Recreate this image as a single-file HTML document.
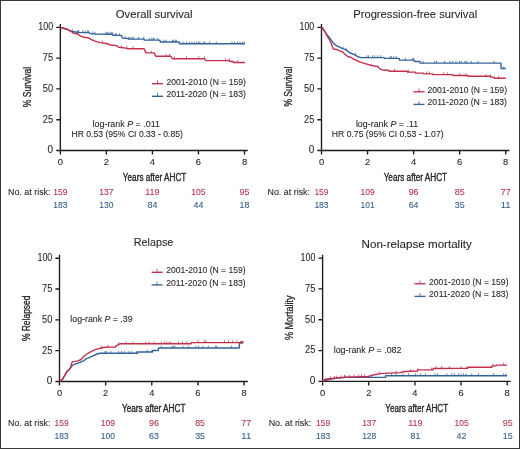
<!DOCTYPE html>
<html><head><meta charset="utf-8"><style>
html,body{margin:0;padding:0;background:#fff;}
#c{position:relative;width:520px;height:449px;overflow:hidden;background:#fff;box-sizing:border-box;border:1px solid #3a3a3a;}
svg{position:absolute;left:-1px;top:-1px;will-change:transform;}
text{font-family:"Liberation Sans",sans-serif;stroke:currentColor;stroke-width:0.08px;}
</style></head><body><div id="c">
<svg width="520" height="449" viewBox="0 0 520 449">
<text x="154.2" y="17.6" font-size="11.2" fill="#262626" color="#262626" text-anchor="middle" textLength="76.8" lengthAdjust="spacingAndGlyphs">Overall survival</text>
<path d="M60.35,24.0V154.6M56.25,150.5H247.8M56.25,150.50H60.35M60.35,150.5V154.6M56.25,119.70H60.35M106.39,150.5V154.6M56.25,88.90H60.35M152.43,150.5V154.6M56.25,58.10H60.35M198.46,150.5V154.6M56.25,27.30H60.35M244.50,150.5V154.6" stroke="#1a1a1a" stroke-width="1.35" fill="none"/>
<text x="53.15" y="153.40" font-size="10" fill="#262626" color="#262626" text-anchor="end">0</text>
<text x="53.15" y="122.60" font-size="10" fill="#262626" color="#262626" text-anchor="end" textLength="10.3" lengthAdjust="spacingAndGlyphs">25</text>
<text x="53.15" y="91.80" font-size="10" fill="#262626" color="#262626" text-anchor="end" textLength="10.3" lengthAdjust="spacingAndGlyphs">50</text>
<text x="53.15" y="61.00" font-size="10" fill="#262626" color="#262626" text-anchor="end" textLength="10.3" lengthAdjust="spacingAndGlyphs">75</text>
<text x="53.15" y="30.20" font-size="10" fill="#262626" color="#262626" text-anchor="end" textLength="14.8" lengthAdjust="spacingAndGlyphs">100</text>
<text x="60.35" y="165.10" font-size="9.4" fill="#262626" color="#262626" text-anchor="middle">0</text>
<text x="106.39" y="165.10" font-size="9.4" fill="#262626" color="#262626" text-anchor="middle">2</text>
<text x="152.43" y="165.10" font-size="9.4" fill="#262626" color="#262626" text-anchor="middle">4</text>
<text x="198.46" y="165.10" font-size="9.4" fill="#262626" color="#262626" text-anchor="middle">6</text>
<text x="244.50" y="165.10" font-size="9.4" fill="#262626" color="#262626" text-anchor="middle">8</text>
<text transform="translate(30.7,87.0) rotate(-90)" x="0" y="0" font-size="11" fill="#262626" color="#262626" text-anchor="middle" textLength="40.3" lengthAdjust="spacingAndGlyphs" style="stroke-width:0.3px">% Survival</text>
<path d="M152.0,83.70H163.0" stroke="#c42f4e" stroke-width="1.35" fill="none"/>
<path d="M157.5,83.70V80.30" stroke="#c42f4e" stroke-width="0.8" fill="none"/>
<text x="166.4" y="85.10" font-size="8.2" fill="#262626" color="#262626" textLength="79.5" lengthAdjust="spacingAndGlyphs">2001-2010 (N = 159)</text>
<path d="M152.0,96.30H163.0" stroke="#33639a" stroke-width="1.35" fill="none"/>
<path d="M157.5,96.30V92.90" stroke="#33639a" stroke-width="0.8" fill="none"/>
<text x="166.4" y="97.35" font-size="8.2" fill="#262626" color="#262626" textLength="79.5" lengthAdjust="spacingAndGlyphs">2011-2020 (N = 183)</text>
<text x="92.6" y="126.7" font-size="8.2" fill="#262626" color="#262626" textLength="67.3" lengthAdjust="spacingAndGlyphs">log-rank <tspan font-style="italic">P</tspan> = .011</text>
<text x="127.2" y="137.2" font-size="8.2" fill="#262626" color="#262626" text-anchor="middle" textLength="111.5" lengthAdjust="spacingAndGlyphs">HR 0.53 (95% CI 0.33 - 0.85)</text>
<text x="154.6" y="180.6" font-size="10" fill="#262626" color="#262626" text-anchor="middle" textLength="63.5" lengthAdjust="spacingAndGlyphs" style="stroke-width:0.35px">Years after AHCT</text>
<text x="8.0" y="195.1" font-size="9" fill="#262626" color="#262626" textLength="42.5" lengthAdjust="spacingAndGlyphs">No. at risk:</text>
<text x="60.35" y="195.1" font-size="9" fill="#b3304c" color="#b3304c" text-anchor="middle" textLength="14.2" lengthAdjust="spacingAndGlyphs">159</text>
<text x="60.35" y="208.00" font-size="9" fill="#305c8a" color="#305c8a" text-anchor="middle" textLength="14.2" lengthAdjust="spacingAndGlyphs">183</text>
<text x="106.39" y="195.1" font-size="9" fill="#b3304c" color="#b3304c" text-anchor="middle" textLength="14.2" lengthAdjust="spacingAndGlyphs">137</text>
<text x="106.39" y="208.00" font-size="9" fill="#305c8a" color="#305c8a" text-anchor="middle" textLength="14.2" lengthAdjust="spacingAndGlyphs">130</text>
<text x="152.43" y="195.1" font-size="9" fill="#b3304c" color="#b3304c" text-anchor="middle" textLength="14.2" lengthAdjust="spacingAndGlyphs">119</text>
<text x="152.43" y="208.00" font-size="9" fill="#305c8a" color="#305c8a" text-anchor="middle" textLength="9.9" lengthAdjust="spacingAndGlyphs">84</text>
<text x="198.46" y="195.1" font-size="9" fill="#b3304c" color="#b3304c" text-anchor="middle" textLength="14.2" lengthAdjust="spacingAndGlyphs">105</text>
<text x="198.46" y="208.00" font-size="9" fill="#305c8a" color="#305c8a" text-anchor="middle" textLength="9.9" lengthAdjust="spacingAndGlyphs">44</text>
<text x="244.50" y="195.1" font-size="9" fill="#b3304c" color="#b3304c" text-anchor="middle" textLength="9.9" lengthAdjust="spacingAndGlyphs">95</text>
<text x="244.50" y="208.00" font-size="9" fill="#305c8a" color="#305c8a" text-anchor="middle" textLength="9.9" lengthAdjust="spacingAndGlyphs">18</text>
<text x="415.2" y="17.7" font-size="11.2" fill="#262626" color="#262626" text-anchor="middle" textLength="124.0" lengthAdjust="spacingAndGlyphs">Progression-free survival</text>
<path d="M321.5,24.0V154.6M317.4,150.5H509.3M317.4,150.50H321.5M321.50,150.5V154.6M317.4,119.70H321.5M367.55,150.5V154.6M317.4,88.90H321.5M413.60,150.5V154.6M317.4,58.10H321.5M459.65,150.5V154.6M317.4,27.30H321.5M505.70,150.5V154.6" stroke="#1a1a1a" stroke-width="1.35" fill="none"/>
<text x="314.3" y="153.40" font-size="10" fill="#262626" color="#262626" text-anchor="end">0</text>
<text x="314.3" y="122.60" font-size="10" fill="#262626" color="#262626" text-anchor="end" textLength="10.3" lengthAdjust="spacingAndGlyphs">25</text>
<text x="314.3" y="91.80" font-size="10" fill="#262626" color="#262626" text-anchor="end" textLength="10.3" lengthAdjust="spacingAndGlyphs">50</text>
<text x="314.3" y="61.00" font-size="10" fill="#262626" color="#262626" text-anchor="end" textLength="10.3" lengthAdjust="spacingAndGlyphs">75</text>
<text x="314.3" y="30.20" font-size="10" fill="#262626" color="#262626" text-anchor="end" textLength="14.8" lengthAdjust="spacingAndGlyphs">100</text>
<text x="321.50" y="165.10" font-size="9.4" fill="#262626" color="#262626" text-anchor="middle">0</text>
<text x="367.55" y="165.10" font-size="9.4" fill="#262626" color="#262626" text-anchor="middle">2</text>
<text x="413.60" y="165.10" font-size="9.4" fill="#262626" color="#262626" text-anchor="middle">4</text>
<text x="459.65" y="165.10" font-size="9.4" fill="#262626" color="#262626" text-anchor="middle">6</text>
<text x="505.70" y="165.10" font-size="9.4" fill="#262626" color="#262626" text-anchor="middle">8</text>
<text transform="translate(292.0,86.6) rotate(-90)" x="0" y="0" font-size="11" fill="#262626" color="#262626" text-anchor="middle" textLength="39.8" lengthAdjust="spacingAndGlyphs" style="stroke-width:0.3px">% Survival</text>
<path d="M413.5,91.80H424.5" stroke="#c42f4e" stroke-width="1.35" fill="none"/>
<path d="M419.0,91.80V88.40" stroke="#c42f4e" stroke-width="0.8" fill="none"/>
<text x="427.5" y="93.20" font-size="8.2" fill="#262626" color="#262626" textLength="79.5" lengthAdjust="spacingAndGlyphs">2001-2010 (N = 159)</text>
<path d="M413.5,104.40H424.5" stroke="#33639a" stroke-width="1.35" fill="none"/>
<path d="M419.0,104.40V101.00" stroke="#33639a" stroke-width="0.8" fill="none"/>
<text x="427.5" y="105.45" font-size="8.2" fill="#262626" color="#262626" textLength="79.5" lengthAdjust="spacingAndGlyphs">2011-2020 (N = 183)</text>
<text x="355.9" y="126.9" font-size="8.2" fill="#262626" color="#262626" textLength="62.2" lengthAdjust="spacingAndGlyphs">log-rank <tspan font-style="italic">P</tspan> = .11</text>
<text x="387.7" y="137.2" font-size="8.2" fill="#262626" color="#262626" text-anchor="middle" textLength="111.8" lengthAdjust="spacingAndGlyphs">HR 0.75 (95% CI 0.53 - 1.07)</text>
<text x="415.4" y="180.6" font-size="10" fill="#262626" color="#262626" text-anchor="middle" textLength="63.5" lengthAdjust="spacingAndGlyphs" style="stroke-width:0.35px">Years after AHCT</text>
<text x="267.5" y="194.8" font-size="9" fill="#262626" color="#262626" textLength="42.5" lengthAdjust="spacingAndGlyphs">No. at risk:</text>
<text x="321.50" y="194.8" font-size="9" fill="#b3304c" color="#b3304c" text-anchor="middle" textLength="14.2" lengthAdjust="spacingAndGlyphs">159</text>
<text x="321.50" y="207.70" font-size="9" fill="#305c8a" color="#305c8a" text-anchor="middle" textLength="14.2" lengthAdjust="spacingAndGlyphs">183</text>
<text x="367.55" y="194.8" font-size="9" fill="#b3304c" color="#b3304c" text-anchor="middle" textLength="14.2" lengthAdjust="spacingAndGlyphs">109</text>
<text x="367.55" y="207.70" font-size="9" fill="#305c8a" color="#305c8a" text-anchor="middle" textLength="14.2" lengthAdjust="spacingAndGlyphs">101</text>
<text x="413.60" y="194.8" font-size="9" fill="#b3304c" color="#b3304c" text-anchor="middle" textLength="9.9" lengthAdjust="spacingAndGlyphs">96</text>
<text x="413.60" y="207.70" font-size="9" fill="#305c8a" color="#305c8a" text-anchor="middle" textLength="9.9" lengthAdjust="spacingAndGlyphs">64</text>
<text x="459.65" y="194.8" font-size="9" fill="#b3304c" color="#b3304c" text-anchor="middle" textLength="9.9" lengthAdjust="spacingAndGlyphs">85</text>
<text x="459.65" y="207.70" font-size="9" fill="#305c8a" color="#305c8a" text-anchor="middle" textLength="9.9" lengthAdjust="spacingAndGlyphs">35</text>
<text x="505.70" y="194.8" font-size="9" fill="#b3304c" color="#b3304c" text-anchor="middle" textLength="9.9" lengthAdjust="spacingAndGlyphs">77</text>
<text x="505.70" y="207.70" font-size="9" fill="#305c8a" color="#305c8a" text-anchor="middle" textLength="9.9" lengthAdjust="spacingAndGlyphs">11</text>
<text x="153.5" y="246.4" font-size="11.2" fill="#262626" color="#262626" text-anchor="middle" textLength="39.5" lengthAdjust="spacingAndGlyphs">Relapse</text>
<path d="M59.5,254.8V385.6M55.4,381.5H247.85M55.4,381.50H59.5M59.50,381.5V385.6M55.4,350.68H59.5M105.64,381.5V385.6M55.4,319.85H59.5M151.78,381.5V385.6M55.4,289.02H59.5M197.91,381.5V385.6M55.4,258.20H59.5M244.05,381.5V385.6" stroke="#1a1a1a" stroke-width="1.35" fill="none"/>
<text x="52.3" y="384.40" font-size="10" fill="#262626" color="#262626" text-anchor="end">0</text>
<text x="52.3" y="353.57" font-size="10" fill="#262626" color="#262626" text-anchor="end" textLength="10.3" lengthAdjust="spacingAndGlyphs">25</text>
<text x="52.3" y="322.75" font-size="10" fill="#262626" color="#262626" text-anchor="end" textLength="10.3" lengthAdjust="spacingAndGlyphs">50</text>
<text x="52.3" y="291.92" font-size="10" fill="#262626" color="#262626" text-anchor="end" textLength="10.3" lengthAdjust="spacingAndGlyphs">75</text>
<text x="52.3" y="261.10" font-size="10" fill="#262626" color="#262626" text-anchor="end" textLength="14.8" lengthAdjust="spacingAndGlyphs">100</text>
<text x="59.50" y="396.10" font-size="9.4" fill="#262626" color="#262626" text-anchor="middle">0</text>
<text x="105.64" y="396.10" font-size="9.4" fill="#262626" color="#262626" text-anchor="middle">2</text>
<text x="151.78" y="396.10" font-size="9.4" fill="#262626" color="#262626" text-anchor="middle">4</text>
<text x="197.91" y="396.10" font-size="9.4" fill="#262626" color="#262626" text-anchor="middle">6</text>
<text x="244.05" y="396.10" font-size="9.4" fill="#262626" color="#262626" text-anchor="middle">8</text>
<text transform="translate(29.7,318.3) rotate(-90)" x="0" y="0" font-size="11" fill="#262626" color="#262626" text-anchor="middle" textLength="45.6" lengthAdjust="spacingAndGlyphs" style="stroke-width:0.3px">% Relapsed</text>
<path d="M151.6,272.30H162.6" stroke="#c42f4e" stroke-width="1.35" fill="none"/>
<path d="M157.1,272.30V268.90" stroke="#c42f4e" stroke-width="0.8" fill="none"/>
<text x="166.2" y="273.30" font-size="8.2" fill="#262626" color="#262626" textLength="79.5" lengthAdjust="spacingAndGlyphs">2001-2010 (N = 159)</text>
<path d="M151.6,284.90H162.6" stroke="#33639a" stroke-width="1.35" fill="none"/>
<path d="M157.1,284.90V281.50" stroke="#33639a" stroke-width="0.8" fill="none"/>
<text x="166.2" y="285.55" font-size="8.2" fill="#262626" color="#262626" textLength="79.5" lengthAdjust="spacingAndGlyphs">2011-2020 (N = 183)</text>
<text x="70.3" y="322.0" font-size="8.2" fill="#262626" color="#262626" textLength="62.3" lengthAdjust="spacingAndGlyphs">log-rank <tspan font-style="italic">P</tspan> = .39</text>
<text x="153.7" y="411.6" font-size="10" fill="#262626" color="#262626" text-anchor="middle" textLength="63.5" lengthAdjust="spacingAndGlyphs" style="stroke-width:0.35px">Years after AHCT</text>
<text x="8.0" y="425.7" font-size="9" fill="#262626" color="#262626" textLength="42.5" lengthAdjust="spacingAndGlyphs">No. at risk:</text>
<text x="61.70" y="425.7" font-size="9" fill="#b3304c" color="#b3304c" text-anchor="middle" textLength="14.2" lengthAdjust="spacingAndGlyphs">159</text>
<text x="61.70" y="438.60" font-size="9" fill="#305c8a" color="#305c8a" text-anchor="middle" textLength="14.2" lengthAdjust="spacingAndGlyphs">183</text>
<text x="107.84" y="425.7" font-size="9" fill="#b3304c" color="#b3304c" text-anchor="middle" textLength="14.2" lengthAdjust="spacingAndGlyphs">109</text>
<text x="107.84" y="438.60" font-size="9" fill="#305c8a" color="#305c8a" text-anchor="middle" textLength="14.2" lengthAdjust="spacingAndGlyphs">100</text>
<text x="153.97" y="425.7" font-size="9" fill="#b3304c" color="#b3304c" text-anchor="middle" textLength="9.9" lengthAdjust="spacingAndGlyphs">96</text>
<text x="153.97" y="438.60" font-size="9" fill="#305c8a" color="#305c8a" text-anchor="middle" textLength="9.9" lengthAdjust="spacingAndGlyphs">63</text>
<text x="200.11" y="425.7" font-size="9" fill="#b3304c" color="#b3304c" text-anchor="middle" textLength="9.9" lengthAdjust="spacingAndGlyphs">85</text>
<text x="200.11" y="438.60" font-size="9" fill="#305c8a" color="#305c8a" text-anchor="middle" textLength="9.9" lengthAdjust="spacingAndGlyphs">35</text>
<text x="246.25" y="425.7" font-size="9" fill="#b3304c" color="#b3304c" text-anchor="middle" textLength="9.9" lengthAdjust="spacingAndGlyphs">77</text>
<text x="246.25" y="438.60" font-size="9" fill="#305c8a" color="#305c8a" text-anchor="middle" textLength="9.9" lengthAdjust="spacingAndGlyphs">11</text>
<text x="416.7" y="247.9" font-size="11.2" fill="#262626" color="#262626" text-anchor="middle" textLength="110.2" lengthAdjust="spacingAndGlyphs">Non-relapse mortality</text>
<path d="M322.6,254.7V385.5M318.5,381.4H510.6M318.5,381.40H322.6M322.60,381.4V385.5M318.5,350.57H322.6M368.75,381.4V385.5M318.5,319.75H322.6M414.90,381.4V385.5M318.5,288.93H322.6M461.05,381.4V385.5M318.5,258.10H322.6M507.20,381.4V385.5" stroke="#1a1a1a" stroke-width="1.35" fill="none"/>
<text x="315.40000000000003" y="384.30" font-size="10" fill="#262626" color="#262626" text-anchor="end">0</text>
<text x="315.40000000000003" y="353.47" font-size="10" fill="#262626" color="#262626" text-anchor="end" textLength="10.3" lengthAdjust="spacingAndGlyphs">25</text>
<text x="315.40000000000003" y="322.65" font-size="10" fill="#262626" color="#262626" text-anchor="end" textLength="10.3" lengthAdjust="spacingAndGlyphs">50</text>
<text x="315.40000000000003" y="291.82" font-size="10" fill="#262626" color="#262626" text-anchor="end" textLength="10.3" lengthAdjust="spacingAndGlyphs">75</text>
<text x="315.40000000000003" y="261.00" font-size="10" fill="#262626" color="#262626" text-anchor="end" textLength="14.8" lengthAdjust="spacingAndGlyphs">100</text>
<text x="322.60" y="396.00" font-size="9.4" fill="#262626" color="#262626" text-anchor="middle">0</text>
<text x="368.75" y="396.00" font-size="9.4" fill="#262626" color="#262626" text-anchor="middle">2</text>
<text x="414.90" y="396.00" font-size="9.4" fill="#262626" color="#262626" text-anchor="middle">4</text>
<text x="461.05" y="396.00" font-size="9.4" fill="#262626" color="#262626" text-anchor="middle">6</text>
<text x="507.20" y="396.00" font-size="9.4" fill="#262626" color="#262626" text-anchor="middle">8</text>
<text transform="translate(293.1,317.75) rotate(-90)" x="0" y="0" font-size="11" fill="#262626" color="#262626" text-anchor="middle" textLength="44.5" lengthAdjust="spacingAndGlyphs" style="stroke-width:0.3px">% Mortality</text>
<path d="M414.5,283.80H425.5" stroke="#c42f4e" stroke-width="1.35" fill="none"/>
<path d="M420.0,283.80V280.40" stroke="#c42f4e" stroke-width="0.8" fill="none"/>
<text x="429.0" y="285.20" font-size="8.2" fill="#262626" color="#262626" textLength="79.5" lengthAdjust="spacingAndGlyphs">2001-2010 (N = 159)</text>
<path d="M414.5,296.40H425.5" stroke="#33639a" stroke-width="1.35" fill="none"/>
<path d="M420.0,296.40V293.00" stroke="#33639a" stroke-width="0.8" fill="none"/>
<text x="429.0" y="297.45" font-size="8.2" fill="#262626" color="#262626" textLength="79.5" lengthAdjust="spacingAndGlyphs">2011-2020 (N = 183)</text>
<text x="333.7" y="352.7" font-size="8.2" fill="#262626" color="#262626" textLength="67.8" lengthAdjust="spacingAndGlyphs">log-rank <tspan font-style="italic">P</tspan> = .082</text>
<text x="416.7" y="411.6" font-size="10" fill="#262626" color="#262626" text-anchor="middle" textLength="62.8" lengthAdjust="spacingAndGlyphs" style="stroke-width:0.35px">Years after AHCT</text>
<text x="268.7" y="425.7" font-size="9" fill="#262626" color="#262626" textLength="42.5" lengthAdjust="spacingAndGlyphs">No. at risk:</text>
<text x="323.10" y="425.7" font-size="9" fill="#b3304c" color="#b3304c" text-anchor="middle" textLength="14.2" lengthAdjust="spacingAndGlyphs">159</text>
<text x="323.10" y="438.60" font-size="9" fill="#305c8a" color="#305c8a" text-anchor="middle" textLength="14.2" lengthAdjust="spacingAndGlyphs">183</text>
<text x="369.25" y="425.7" font-size="9" fill="#b3304c" color="#b3304c" text-anchor="middle" textLength="14.2" lengthAdjust="spacingAndGlyphs">137</text>
<text x="369.25" y="438.60" font-size="9" fill="#305c8a" color="#305c8a" text-anchor="middle" textLength="14.2" lengthAdjust="spacingAndGlyphs">128</text>
<text x="415.40" y="425.7" font-size="9" fill="#b3304c" color="#b3304c" text-anchor="middle" textLength="14.2" lengthAdjust="spacingAndGlyphs">119</text>
<text x="415.40" y="438.60" font-size="9" fill="#305c8a" color="#305c8a" text-anchor="middle" textLength="9.9" lengthAdjust="spacingAndGlyphs">81</text>
<text x="461.55" y="425.7" font-size="9" fill="#b3304c" color="#b3304c" text-anchor="middle" textLength="14.2" lengthAdjust="spacingAndGlyphs">105</text>
<text x="461.55" y="438.60" font-size="9" fill="#305c8a" color="#305c8a" text-anchor="middle" textLength="9.9" lengthAdjust="spacingAndGlyphs">42</text>
<text x="507.70" y="425.7" font-size="9" fill="#b3304c" color="#b3304c" text-anchor="middle" textLength="9.9" lengthAdjust="spacingAndGlyphs">95</text>
<text x="507.70" y="438.60" font-size="9" fill="#305c8a" color="#305c8a" text-anchor="middle" textLength="9.9" lengthAdjust="spacingAndGlyphs">15</text>
<path d="M60.35,27.5 L66.7,29.2 L70,30.9 L72,31.5 L79,32.5 L88.8,32.6 L90.3,33.6 L95,34 L112.7,34.2 L113,35.4 L121.2,35.4 L122.7,38.1 L128,38.5 L128.5,39.1 L144.1,39.1 L144.3,40.1 L160,40.1 L160.2,42 L179.2,42 L179.6,43.8 L245,43.8" stroke="#33639a" stroke-width="1.4" fill="none" stroke-linejoin="round"/>
<path d="M60.35,27.5 L63,28 L66.5,29 L69,30.2 L72,31.8 L73,33 L78,34 L79.5,35.6 L83.4,37.2 L88.5,37.8 L91,39.3 L95,41.2 L100,42.6 L106.5,43.5 L110.4,45 L116.5,45.6 L118.8,47.3 L125.8,48.1 L128,48.8 L144.1,48.8 L146,52.9 L154.2,52.9 L155.7,56.2 L170.6,56.2 L172.5,58.7 L204.4,58.7 L206.2,60.6 L229.4,60.6 L229.8,61.5 L233.1,61.5 L233.4,62.5 L245,62.5" stroke="#c42f4e" stroke-width="1.4" fill="none" stroke-linejoin="round"/>
<path d="M321.5,27.3 L324,30.4 L327,34.7 L330,38.3 L333,42.6 L336,45.4 L339,46.8 L342,48.3 L345,49.3 L347,50.6 L350,53 L355,54.9 L358,56.8 L361,57.6 L384.3,57.6 L384.5,58.4 L399.2,58.4 L399.4,60.15 L414.2,60.15 L414.4,61.5 L420,61.5 L420.2,63.1 L500.9,63.1 L501.1,68.5 L505.8,68.5" stroke="#33639a" stroke-width="1.4" fill="none" stroke-linejoin="round"/>
<path d="M321.5,27.3 L323,28.3 L325,31.8 L327,35.8 L329,39 L331.5,44 L333.3,49 L336,49.3 L340,50.8 L343,52.2 L345,54.2 L348,56.8 L351,57.3 L353,58.75 L357,60.7 L360,62.1 L365,63.6 L370,65 L373,65.8 L378,66.4 L378.5,67.4 L380.5,69.3 L384,70.3 L388.5,70.3 L389,71.2 L407.3,71.2 L407.5,72.15 L415.4,72.15 L415.6,73.1 L423.5,73.1 L423.7,73.9 L432.7,73.9 L432.9,74.6 L452.9,74.6 L453.1,75.5 L467.7,75.5 L467.9,76.2 L490.5,76.2 L490.7,77.1 L494.2,77.1 L494.4,78.3 L505.8,78.3" stroke="#c42f4e" stroke-width="1.4" fill="none" stroke-linejoin="round"/>
<path d="M59.5,381.5 L62.5,379.3 L65,375 L67,371.6 L70.5,368 L72,365.9 L74,364.5 L77,363.4 L80,362.4 L84,360.6 L86,358.8 L92,356.4 L95,355 L97,354 L100,353.3 L137.5,353.3 L137.7,352 L152.5,352 L152.7,350.5 L158.3,350.5 L158.5,348 L239.3,348 L239.5,343 L243.4,343" stroke="#33639a" stroke-width="1.4" fill="none" stroke-linejoin="round"/>
<path d="M59.5,381.5 L62.5,379.1 L65,374.8 L67,371.3 L69,369.8 L70.5,367.7 L71.5,363.8 L72.5,361.6 L75,361.4 L78,360.9 L81,359.5 L84,356.3 L86,354.5 L91,351.6 L95,349.7 L100,348.3 L105,347.3 L110,347.1 L115,347.1 L117,345.4 L120,343.8 L191,343.8 L191.2,342.6 L240.5,342.6 L241,341.7 L243.4,341.7" stroke="#c42f4e" stroke-width="1.4" fill="none" stroke-linejoin="round"/>
<path d="M322.6,381.4 L326,380.2 L330,379.2 L336,378.2 L345,377.4 L385.5,377.2 L385.7,375.7 L507,375.7" stroke="#33639a" stroke-width="1.4" fill="none" stroke-linejoin="round"/>
<path d="M322.6,381.4 L325,379.2 L330,378.7 L335,378.1 L345,377.3 L355,376.9 L368,376.5 L372,375.3 L380,373.6 L390,373.1 L400,372.6 L405,371.5 L417.5,371 L418,369.9 L433,369.7 L433.3,368.5 L467.7,368.4 L467.9,367.2 L491.9,367.2 L492.1,365.9 L496.1,365.9 L496.3,365.1 L507,365.1" stroke="#c42f4e" stroke-width="1.4" fill="none" stroke-linejoin="round"/>
<path d="M72.4,31.56v-2.3M77.6,32.3v-2.3M78.8,32.47v-2.3M82.8,32.54v-2.3M85.1,32.56v-2.3M87.4,32.59v-2.3M88.6,32.6v-2.3M92.6,33.8v-2.3M94.9,33.99v-2.3M105.9,34.12v-2.3M107,34.14v-2.3M108.8,34.16v-2.3M111,34.18v-2.3M112.2,34.19v-2.3M115,35.4v-2.3M116.5,35.4v-2.3M119.6,35.4v-2.3M125,38.27v-2.3M128.8,39.1v-2.3M130,39.1v-2.3M131.9,39.1v-2.3M133.5,39.1v-2.3M138.4,39.1v-2.3M143.7,39.1v-2.3M149.4,40.1v-2.3M151.8,40.1v-2.3M153.3,40.1v-2.3M154.2,40.1v-2.3M157.6,40.1v-2.3M163.8,42.0v-2.3M165.8,42.0v-2.3M172.5,42.0v-2.3M173.5,42.0v-2.3M175.4,42.0v-2.3M176.3,42.0v-2.3M183,43.8v-2.3M186.3,43.8v-2.3M189.4,43.8v-2.3M191.9,43.8v-2.3M194.4,43.8v-2.3M196.9,43.8v-2.3M198.75,43.8v-2.3M200,43.8v-2.3M203.75,43.8v-2.3M205,43.8v-2.3M209.4,43.8v-2.3M216.25,43.8v-2.3M231.9,43.8v-2.3M234.4,43.8v-2.3M237.5,43.8v-2.3M240,43.8v-2.3M242.5,43.8v-2.3M244.4,43.8v-2.3" stroke="#33639a" stroke-width="0.75" fill="none"/>
<path d="M102.3,42.92v-2.3M121.5,47.61v-2.3M126.9,48.45v-2.3M133,48.8v-2.3M151.3,52.9v-2.3M166.25,56.2v-2.3M169.6,56.2v-2.3M174.4,58.7v-2.3M186.5,58.7v-2.3M198.75,58.7v-2.3M204.4,58.7v-2.3M225.6,60.6v-2.3M229.4,60.6v-2.3M237.5,62.5v-2.3" stroke="#c42f4e" stroke-width="0.75" fill="none"/>
<path d="M343,48.63v-2.3M346.2,50.08v-2.3M355.4,55.15v-2.3M366.9,57.6v-2.3M368.5,57.6v-2.3M372.3,57.6v-2.3M374.6,57.6v-2.3M377.7,57.6v-2.3M380.8,57.6v-2.3M390,58.4v-2.3M391.5,58.4v-2.3M393.8,58.4v-2.3M396.2,58.4v-2.3M405.4,60.15v-2.3M412.3,60.15v-2.3M413.8,60.15v-2.3M423,63.1v-2.3M434.8,63.1v-2.3M436.6,63.1v-2.3M444.5,63.1v-2.3M449.9,63.1v-2.3M452.5,63.1v-2.3M456,63.1v-2.3M459.6,63.1v-2.3M461.4,63.1v-2.3M464.9,63.1v-2.3M466.7,63.1v-2.3M471.1,63.1v-2.3M478.2,63.1v-2.3M494.1,63.1v-2.3M503.8,68.5v-2.3" stroke="#33639a" stroke-width="0.75" fill="none"/>
<path d="M394.6,71.2v-2.3M408.5,72.15v-2.3M426.8,73.9v-2.3M429.5,73.9v-2.3M443.7,74.6v-2.3M447.2,74.6v-2.3M459.6,75.5v-2.3M465.8,75.5v-2.3M486.1,76.2v-2.3M490.6,76.65v-2.3M498.5,78.3v-2.3" stroke="#c42f4e" stroke-width="0.75" fill="none"/>
<path d="M105,353.3v-2.3M106.5,353.3v-2.3M110.8,353.3v-2.3M118.5,353.3v-2.3M121.4,353.3v-2.3M124.3,353.3v-2.3M129.1,353.3v-2.3M131.7,353.3v-2.3M136.3,353.3v-2.3M147.3,352.0v-2.3M151.9,352.0v-2.3M161.2,348.0v-2.3M172.1,348.0v-2.3M173.3,348.0v-2.3M175,348.0v-2.3M183.1,348.0v-2.3M188.3,348.0v-2.3M195.75,348.0v-2.3M198.7,348.0v-2.3M202.9,348.0v-2.3M208.3,348.0v-2.3M215.4,348.0v-2.3M216.6,348.0v-2.3M231.5,348.0v-2.3" stroke="#33639a" stroke-width="0.75" fill="none"/>
<path d="M101.7,347.96v-2.3M108,347.18v-2.3M118.5,344.6v-2.3M126.2,343.8v-2.3M132.9,343.8v-2.3M145.6,343.8v-2.3M149,343.8v-2.3M154.2,343.8v-2.3M161.2,343.8v-2.3M164.6,343.8v-2.3M166.9,343.8v-2.3M169.2,343.8v-2.3M171,343.8v-2.3M178.5,343.8v-2.3M182.5,343.8v-2.3M186.5,343.8v-2.3M198.1,342.6v-2.3M204.7,342.6v-2.3M205.9,342.6v-2.3M224.4,342.6v-2.3M228.5,342.6v-2.3M232.7,342.6v-2.3M236.9,342.6v-2.3" stroke="#c42f4e" stroke-width="0.75" fill="none"/>
<path d="M344.8,377.42v-2.3M371.5,377.27v-2.3M385.4,377.2v-2.3M391.5,375.7v-2.3M396.2,375.7v-2.3M403,375.7v-2.3M408.5,375.7v-2.3M415.4,375.7v-2.3M420.8,375.7v-2.3M425.4,375.7v-2.3M435,375.7v-2.3M437.5,375.7v-2.3M446.75,375.7v-2.3M451.8,375.7v-2.3M454.3,375.7v-2.3M458.5,375.7v-2.3M461,375.7v-2.3M463.5,375.7v-2.3M466,375.7v-2.3M471.8,375.7v-2.3M478.5,375.7v-2.3M493.6,375.7v-2.3M503.6,375.7v-2.3M506,375.7v-2.3" stroke="#33639a" stroke-width="0.75" fill="none"/>
<path d="M330.4,378.65v-2.3M334.4,378.17v-2.3M336.7,377.96v-2.3M340.8,377.64v-2.3M344.8,377.32v-2.3M349.4,377.12v-2.3M354,376.94v-2.3M358.7,376.79v-2.3M361.5,376.7v-2.3M364.6,376.6v-2.3M379.2,373.77v-2.3M396.2,372.79v-2.3M410.8,371.27v-2.3M417.7,370.56v-2.3M431.7,369.72v-2.3M435.9,368.49v-2.3M441.7,368.48v-2.3M449.3,368.45v-2.3M461,368.42v-2.3M466.8,368.4v-2.3M492.8,365.9v-2.3M503.6,365.1v-2.3" stroke="#c42f4e" stroke-width="0.75" fill="none"/>
</svg></div></body></html>
